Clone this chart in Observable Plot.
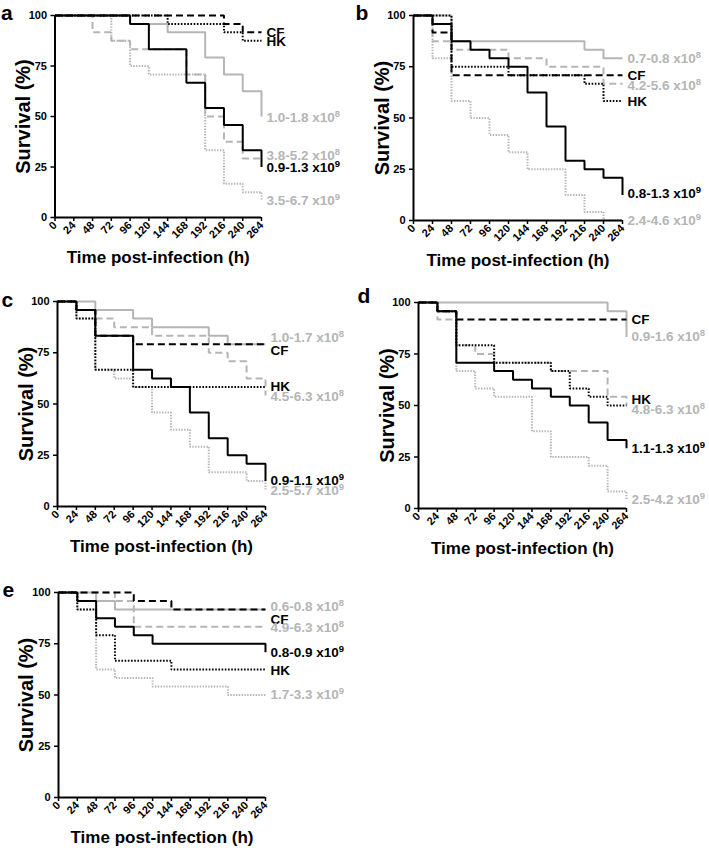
<!DOCTYPE html>
<html><head><meta charset="utf-8">
<script src="https://cdn.jsdelivr.net/npm/d3@7"></script>
<script src="https://cdn.jsdelivr.net/npm/@observablehq/plot@0.6"></script>
<style>
body{margin:0;background:#fff;}
#wrap{position:relative;width:709px;height:850px;overflow:hidden;background:#fff;}
.panel{position:absolute;}
</style></head><body><div id="wrap"></div>
<script>
// ---- data ----
const times = [0,24,48,72,96,120,144,168,192,216,240,264];
const yTicks = [0,25,50,75,100];
const xTitle = "Time post-infection (h)";
const yTitle = "Survival (%)";
const letters = ["a","b","c","d","e"];

// series order: CF, HK, low dose (x10^8), mid dose (x10^8), high dose (x10^9), top dose (x10^9)
const aCF   = [100,100,100,100,100,100,100,100,100,95.8,91.7,91.7];
const aHK   = [100,100,100,100,100,100,95.8,95.8,95.8,91.7,87.5,87.5];
const aLow  = [100,100,100,100,95.8,95.8,91.7,91.7,79.2,70.8,62.5,50];
const aMid  = [100,100,91.7,87.5,83.3,83.3,83.3,70.8,50,37.5,29.2,29.2];
const aHigh = [100,100,100,100,95.8,83.3,83.3,66.7,54.2,45.8,33.3,25];
const aTop  = [100,100,100,87.5,75,70.8,70.8,70.8,33.3,16.7,12.5,8.3];
const aLabels = ["CF","HK","1.0-1.8 x10⁸","3.8-5.2 x10⁸","0.9-1.3 x10⁹","3.5-6.7 x10⁹"];
const aLabelY = [91.5,87,49.6,30.7,24.9,8.4];

const bCF   = [100,91.7,70.8,70.8,70.8,70.8,70.8,70.8,70.8,70.8,70.8,70.8];
const bHK   = [100,100,75,75,75,70.8,70.8,70.8,70.8,66.7,58.3,58.3];
const bLow  = [100,100,87.5,87.5,87.5,87.5,87.5,87.5,87.5,83.3,79.2,79.2];
const bMid  = [100,87.5,83.3,83.3,83.3,79.2,79.2,75,75,75,66.7,66.7];
const bHigh = [100,95.8,87.5,83.3,79.2,75,62.5,45.8,29.2,25,20.8,12.5];
const bTop  = [100,79.2,58.3,50,41.7,33.3,25,25,12.5,4.2,0,0];
const bLabels = ["CF","HK","0.7-0.8 x10⁸","4.2-5.6 x10⁸","0.8-1.3 x10⁹","2.4-4.6 x10⁹"];
const bLabelY = [70.7,58.2,78.9,65.9,13,0];

const cCF   = [100,95.8,83.3,83.3,79.2,79.2,79.2,79.2,79.2,79.2,79.2,79.2];
const cHK   = [100,91.7,66.7,66.7,58.3,58.3,58.3,58.3,58.3,58.3,58.3,58.3];
const cLow  = [100,100,95.8,95.8,91.7,87.5,87.5,87.5,83.3,79.2,79.2,79.2];
const cMid  = [100,95.8,91.7,87.5,87.5,83.3,83.3,83.3,75,70.8,62.5,54.2];
const cHigh = [100,95.8,83.3,83.3,66.7,62.5,58.3,45.8,33.3,25,20.8,12.5];
const cTop  = [100,91.7,66.7,62.5,58.3,45.8,37.5,29.2,16.7,16.7,12.5,8.3];
const cLabels = ["CF","HK","1.0-1.7 x10⁸","4.5-6.3 x10⁸","0.9-1.1 x10⁹","2.5-5.7 x10⁹"];
const cLabelY = [76,58.4,82.5,53.6,12.6,7.7];

const dCF   = [100,95.8,91.7,91.7,91.7,91.7,91.7,91.7,91.7,91.7,91.7,91.7];
const dHK   = [100,95.8,79.2,79.2,70.8,70.8,70.8,66.7,58.3,54.2,50,50];
const dLow  = [100,100,100,100,100,100,100,100,100,100,95.8,83.3];
const dMid  = [100,91.7,79.2,75,70.8,70.8,70.8,66.7,66.7,66.7,54.2,50];
const dHigh = [100,95.8,70.8,70.8,66.7,62.5,58.3,54.2,50,41.7,33.3,29.2];
const dTop  = [100,95.8,66.7,58.3,54.2,54.2,37.5,25,25,20.8,8.3,4.2];
const dLabels = ["CF","HK","0.9-1.6 x10⁸","4.8-6.3 x10⁸","1.1-1.3 x10⁹","2.5-4.2 x10⁹"];
const dLabelY = [91.8,52.7,83.4,47.9,29,4.4];

const eCF   = [100,100,100,100,95.8,95.8,91.7,91.7,91.7,91.7,91.7,91.7];
const eHK   = [100,91.7,79.2,66.7,66.7,66.7,62.5,62.5,62.5,62.5,62.5,62.5];
const eLow  = [100,100,95.8,91.7,91.7,91.7,91.7,91.7,91.7,91.7,91.7,91.7];
const eMid  = [100,100,100,95.8,83.3,83.3,83.3,83.3,83.3,83.3,83.3,83.3];
const eHigh = [100,95.8,87.5,83.3,79.2,75,75,75,75,75,75,70.8];
const eTop  = [100,91.7,62.5,58.3,58.3,54.2,54.2,54.2,54.2,50,50,50];
const eLabels = ["CF","HK","0.6-0.8 x10⁸","4.9-6.3 x10⁸","0.8-0.9 x10⁹","1.7-3.3 x10⁹"];
const eLabelY = [86.8,61.7,93.3,82.8,70.6,50];

// ---- layout / style (code, not data) ----
const GRAY = "#b5b5b5";
const FONT = "'Liberation Sans', Arial, Helvetica, sans-serif";
const styles = [
  {stroke:"#000", dash:"7,4", w:2},     // CF
  {stroke:"#000", dash:"1.6,1.6", w:2}, // HK
  {stroke:GRAY, dash:null, w:2},        // low
  {stroke:GRAY, dash:"7,4", w:2},       // mid
  {stroke:"#000", dash:null, w:2},      // high
  {stroke:GRAY, dash:"1.4,1.4", w:2}    // top
];
const drawOrder = [5,3,2,1,0,4];

const panels = [
  {series:[aCF,aHK,aLow,aMid,aHigh,aTop], labels:aLabels, labelY:aLabelY,
   box:{left:0,top:0,width:354,height:275,ml:54.5,mr:93,mt:15,mb:58}, ldx:-54, ldy:-2, tdx:-31},
  {series:[bCF,bHK,bLow,bMid,bHigh,bTop], labels:bLabels, labelY:bLabelY,
   box:{left:354,top:0,width:355,height:275,ml:59,mr:87,mt:15,mb:55}, ldx:-58, ldy:-2, tdx:-31},
  {series:[cCF,cHK,cLow,cMid,cHigh,cTop], labels:cLabels, labelY:cLabelY,
   box:{left:0,top:286,width:354,height:275,ml:57,mr:89,mt:15,mb:55}, ldx:-56, ldy:-1, tdx:-31},
  {series:[dCF,dHK,dLow,dMid,dHigh,dTop], labels:dLabels, labelY:dLabelY,
   box:{left:354,top:287,width:355,height:275,ml:64,mr:83,mt:15,mb:54}, ldx:-61, ldy:-6, tdx:-31},
  {series:[eCF,eHK,eLow,eMid,eHigh,eTop], labels:eLabels, labelY:eLabelY,
   box:{left:0,top:577,width:354,height:273,ml:58,mr:89,mt:15,mb:53}, ldx:-56, ldy:-2, tdx:-32}
];

const wrap = document.getElementById("wrap");
panels.forEach((p, k) => {
  const b = p.box;
  const marks = [];
  drawOrder.forEach(i => {
    const s = styles[i];
    const data = times.map((t, j) => ({t, v: p.series[i][j]}));
    marks.push(Plot.line(data, {x:"t", y:"v", curve:"step-after",
      stroke:s.stroke, strokeWidth:s.w, strokeDasharray:s.dash, strokeLinecap:"butt", strokeLinejoin:"miter"}));
  });
  marks.push(Plot.ruleX([0], {y1:0, y2:100, stroke:"#000", strokeWidth:2}));
  marks.push(Plot.ruleY([0], {x1:0, x2:264, stroke:"#000", strokeWidth:2}));
  marks.push(Plot.axisY({ticks:yTicks, tickSize:4, tickPadding:4, label:null, fontSize:11, fontWeight:"bold", strokeWidth:1.5}));
  marks.push(Plot.axisX({ticks:times, tickSize:4, tickPadding:2, tickRotate:-45, label:null, fontSize:11, fontWeight:"bold", strokeWidth:1.5}));
  const lab = p.labels.map((text, i) => ({text, y:p.labelY[i], fill: styles[i].stroke}));
  marks.push(Plot.text(lab, {x:() => 264, y:"y", text:"text", fill:"fill", dx:5, textAnchor:"start",
    fontSize:13.5, fontWeight:"bold", className:"serieslabel"}));
  marks.push(Plot.text([xTitle], {frameAnchor:"bottom", textAnchor:"middle", lineAnchor:"middle", dy:40, fontSize:17, fontWeight:"bold", fill:"#000"}));
  marks.push(Plot.text([yTitle], {frameAnchor:"left", textAnchor:"middle", lineAnchor:"middle", rotate:-90, dx:p.tdx, fontSize:20, fontWeight:"bold", fill:"#000"}));
  marks.push(Plot.text([letters[k]], {frameAnchor:"top-left", textAnchor:"start", lineAnchor:"middle", dx:p.ldx, dy:p.ldy, fontSize:21, fontWeight:"bold", fill:"#000"}));

  const svg = Plot.plot({
    width:b.width, height:b.height,
    marginLeft:b.ml, marginRight:b.mr, marginTop:b.mt, marginBottom:b.mb,
    x:{domain:[0,264]}, y:{domain:[0,100]},
    style:{fontFamily:FONT, background:"transparent", overflow:"visible"},
    marks
  });
  // render the exponent of "x10⁸"/"x10⁹" as a raised tspan
  const sup = {"⁸":"8","⁹":"9"};
  svg.querySelectorAll(".serieslabel text").forEach(t => {
    const s = t.textContent;
    const m = s.match(/^(.*x10)([⁸⁹])$/);
    if (!m) return;
    t.textContent = m[1];
    const ts = document.createElementNS("http://www.w3.org/2000/svg", "tspan");
    ts.setAttribute("dy", "-5");
    ts.setAttribute("font-size", "9.5");
    ts.textContent = sup[m[2]];
    t.appendChild(ts);
  });
  const div = document.createElement("div");
  div.className = "panel";
  div.style.left = b.left + "px";
  div.style.top = b.top + "px";
  div.appendChild(svg);
  wrap.appendChild(div);
});
</script></body></html>
